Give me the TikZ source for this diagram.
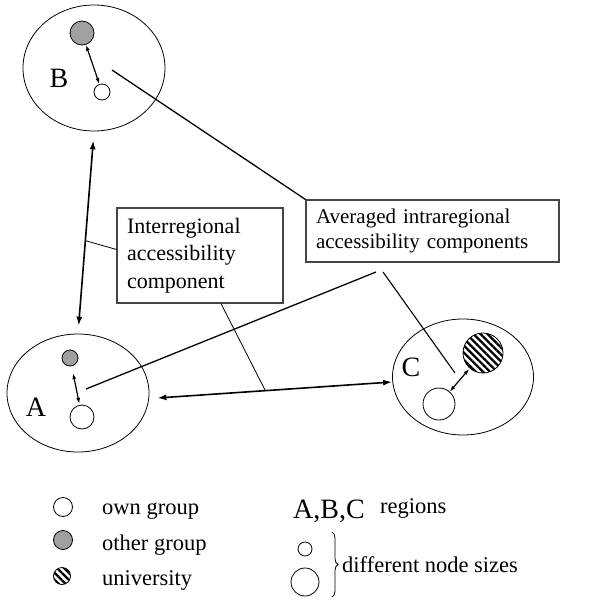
\documentclass[tikz,border=0pt]{standalone}
\usepackage{fontspec}
\setmainfont{Liberation Serif}
\usetikzlibrary{shapes.geometric, arrows.meta, patterns.meta, decorations.pathreplacing}
\definecolor{othergray}{RGB}{160,160,160}
\definecolor{boxline}{RGB}{70,70,70}
\newcommand{\boxfont}{\fontsize{22}{27.5}\selectfont}
\newcommand{\avgfont}{\fontsize{21}{25}\selectfont}
\newcommand{\legfont}{\fontsize{22.5}{26}\selectfont}
\newcommand{\regfont}{\fontsize{28}{32}\selectfont}

\begin{document}
\begin{tikzpicture}[x=1pt, y=-1pt,
    region/.style = {draw, ellipse, inner sep=0pt, line width=.8pt},
    own/.style = {draw, circle, fill=white, inner sep=0pt, line width=.8pt},
    other/.style = {draw, circle, fill=othergray, inner sep=0pt, line width=.8pt},
    uni/.style = {draw, circle, inner sep=0pt, line width=.8pt, pattern={Lines[angle=-45, distance=5pt, line width=2.3pt]}},
    infobox/.style = {draw=boxline, line width=1.1pt, inner xsep=10pt, inner ysep=0pt, align=left},
    txt/.style = {inner sep=0pt, anchor=base west},
    dbl/.style = {{Latex[length=9pt,width=6pt]}-{Latex[length=9pt,width=6pt]}, line width=1.6pt},
    dblin/.style = {{Latex[length=6pt,width=4pt]}-{Latex[length=6pt,width=4pt]}, line width=1.2pt},
    link/.style = {line width=1.3pt},
    lead/.style = {line width=.8pt}]
  \useasboundingbox (0,0) rectangle (614,603);

  % regions
  \node[region, minimum width=142pt, minimum height=126pt] (regB) at (94,68) {};
  \node[region, minimum width=142pt, minimum height=118pt] (regA) at (78,393) {};
  \node[region, minimum width=141pt, minimum height=116pt] (regC) at (463,377) {};
  \node[font=\regfont] (labB) at (59,78) {B};
  \node[font=\regfont] (labA) at (36,407) {A};
  \node[font=\regfont] (labC) at (411,367) {C};

  % nodes inside the regions
  \node[other, minimum size=24pt] (othB) at (82,33) {};
  \node[own, minimum size=16pt] (ownB) at (102,92) {};
  \node[other, minimum size=16pt] (othA) at (70,358) {};
  \node[own, minimum size=24pt] (ownA) at (82,417) {};
  \node[uni, minimum size=40pt] (uniC) at (483,353) {};
  \node[own, minimum size=32pt] (ownC) at (439,404) {};

  \draw[dblin] (othB) -- (ownB);
  \draw[dblin, shorten <=7pt, shorten >=1pt] (othA) -- (ownA);
  \draw[dblin] (ownC) -- (uniC);

  % explanation boxes
  \node[infobox, font=\boxfont, text width=146pt, minimum height=95pt] (inter) at (200,255.5) {Interregional\\accessibility\\component};
  \node[infobox, font=\avgfont, text width=233pt, minimum height=62pt] (avg) at (432.5,231) {Averaged intraregional\\accessibility components};

  % interregional arrows
  \draw[dbl, shorten <=9pt, shorten >=8pt] (regB.south) -- (regA.north) coordinate[pos=.54] (baMid);
  \draw[dbl] ([shift={(8,5)}]regA.east) -- ([shift={(0,5)}]regC.west) coordinate[pos=.46] (acMid);
  \draw[lead] ([yshift=6pt]inter.west) -- (baMid);
  \draw[lead] ([xshift=21pt]inter.south) -- (acMid);

  % intraregional links
  \coordinate (inB) at (112,70);
  \coordinate (inA) at (86,389);
  \coordinate (inC) at (455,373);
  \coordinate (footA) at (376,272);
  \coordinate (footC) at (383,272);
  \draw[link] (inB) -- (avg.north west);
  \draw[link] (inA) -- (footA);
  \draw[link, line width=1.1pt] (inC) -- (footC);

  % legend
  \node[own, minimum size=19pt] (keyOwn) at (63,507) {};
  \node[other, minimum size=19pt] (keyOther) at (63,540) {};
  \node[uni, minimum size=17pt] (keyUni) at (62,576) {};
  \node[txt, font=\legfont] (txtOwn) at (102,514) {own group};
  \node[txt, font=\legfont] (txtOther) at (102,550) {other group};
  \node[txt, font=\legfont] (txtUni) at (102,585) {university};

  \node[txt, font=\regfont] (keyABC) at (293,518) {A,B,C};
  \node[txt, font=\legfont] (txtReg) at (380,513) {regions};
  \node[own, minimum size=14pt] (keySmall) at (305,549) {};
  \node[own, minimum size=28pt] (keyLarge) at (305,582) {};
  \draw[line width=.8pt, decorate, decoration={brace, amplitude=6pt}] (332,532) -- (332,597);
  \node[txt, font=\legfont] (txtSize) at (342,572) {different node sizes};
\end{tikzpicture}
\end{document}
